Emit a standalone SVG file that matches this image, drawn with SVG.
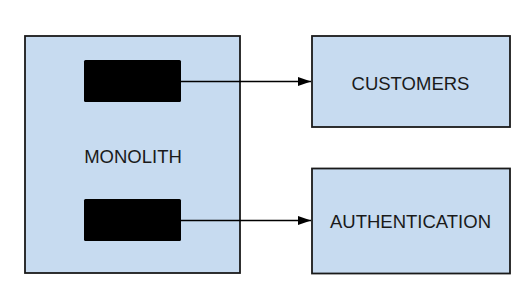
<svg xmlns="http://www.w3.org/2000/svg" width="525" height="295" viewBox="0 0 525 295">
  <style>
    .box { fill: #c7dbf0; stroke: #1a1a1a; stroke-width: 1.8; }
    .port { fill: #000; stroke: none; }
    .label { font-family: "Liberation Sans", Arial, sans-serif; font-size: 18.5px; fill: #1a1a1a; text-anchor: middle; }
    .link { stroke: #000; stroke-width: 1.4; fill: none; marker-end: url(#head); }
  </style>
  <defs>
    <marker id="head" markerUnits="userSpaceOnUse" markerWidth="13" markerHeight="9" refX="13" refY="4.5" orient="auto">
      <path d="M0,0 L13,4.5 L0,9 Z" fill="#000"/>
    </marker>
  </defs>
  <rect width="525" height="295" fill="#fff"/>

  <g id="monolith">
    <rect class="box" x="25" y="36" width="215" height="237"/>
    <rect class="port" x="84" y="60" width="97" height="42" rx="1.5"/>
    <rect class="port" x="84" y="199" width="97" height="42" rx="1.5"/>
    <text class="label" x="133" y="162.5">MONOLITH</text>
  </g>

  <g id="customers">
    <rect class="box" x="312" y="36" width="198" height="91"/>
    <text class="label" x="410.5" y="89.5">CUSTOMERS</text>
  </g>

  <g id="authentication">
    <rect class="box" x="312" y="168.5" width="198" height="105"/>
    <text class="label" x="410.5" y="228">AUTHENTICATION</text>
  </g>

  <g id="connectors">
    <path class="link" d="M181,81.5 H311"/>
    <path class="link" d="M181,220.5 H311"/>
  </g>
</svg>
